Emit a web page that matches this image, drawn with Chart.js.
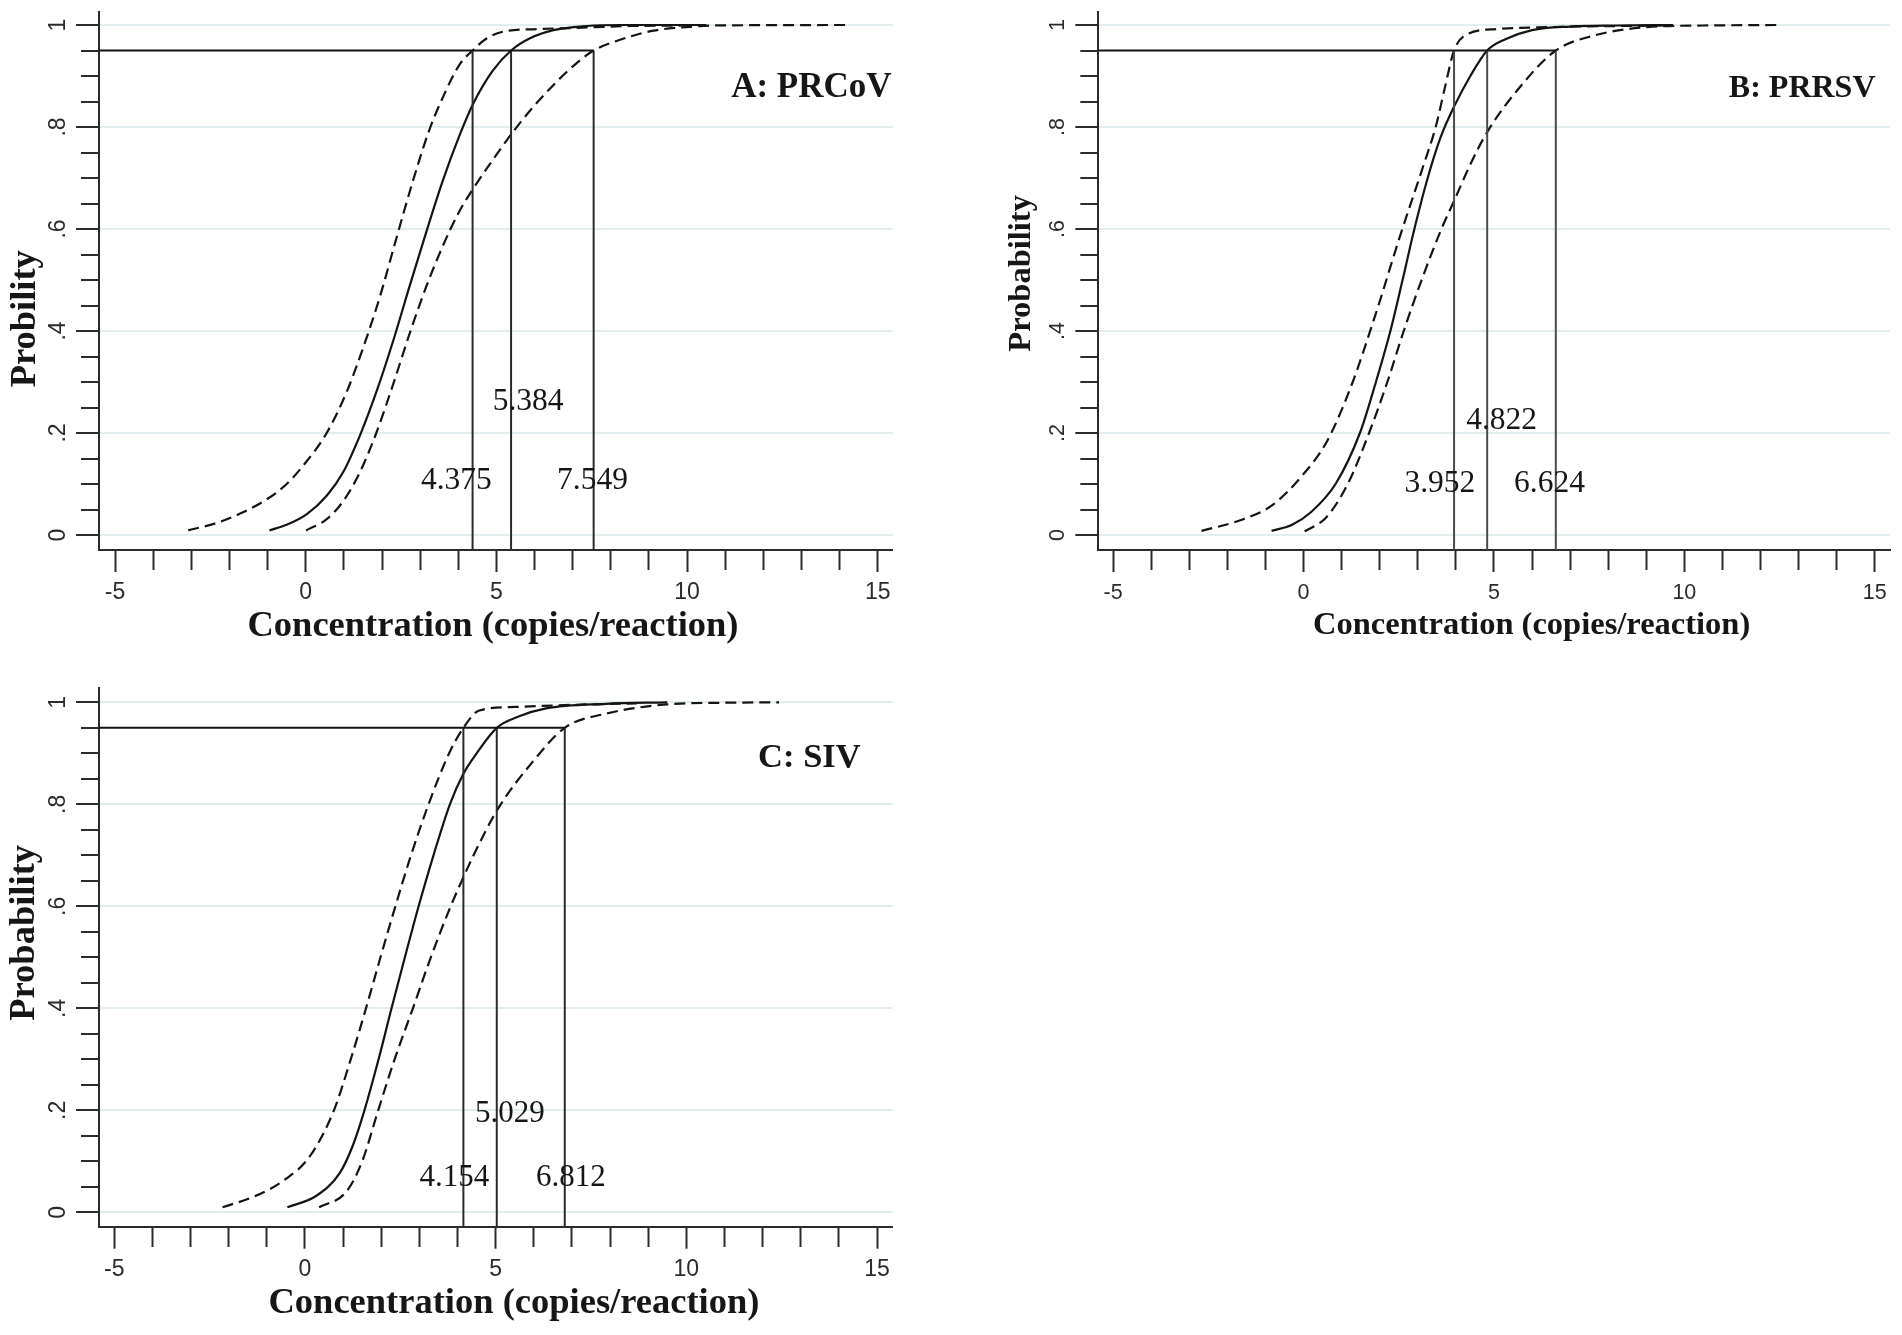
<!DOCTYPE html>
<html>
<head>
<meta charset="utf-8">
<script src="https://cdn.jsdelivr.net/npm/chart.js@4/dist/chart.umd.min.js"></script>
<style>
  html, body { margin: 0; padding: 0; background: #ffffff; }
  body { width: 1902px; height: 1335px; position: relative; overflow: hidden; }
  canvas { position: absolute; display: block; }
</style>
</head>
<body>
<canvas id="panelA" width="951" height="667" style="left:0px;top:0px;width:951px;height:667px;"></canvas>
<canvas id="panelB" width="951" height="667" style="left:951px;top:0px;width:951px;height:667px;"></canvas>
<canvas id="panelC" width="951" height="668" style="left:0px;top:667px;width:951px;height:668px;"></canvas>
<script>
// ---------------- DATA ----------------
const xAxisTitle = 'Concentration (copies/reaction)';
const yAxisTitles = ['Probility', 'Probability', 'Probability'];
const panelNames = ['A: PRCoV', 'B: PRRSV', 'C: SIV'];
const xTickLabels = [-5, 0, 5, 10, 15];
const yTickValues = [0, 0.2, 0.4, 0.6, 0.8, 1];
const yTickLabels = ['0', '.2', '.4', '.6', '.8', '1'];
const probLevel = 0.95;

// LOD at 95 % probability: [lower CI, estimate, upper CI]
const lodPRCoV = [4.375, 5.384, 7.549];
const lodPRRSV = [3.952, 4.822, 6.624];
const lodSIV   = [4.154, 5.029, 6.812];

// Panel A: PRCoV  ([concentration, probability])
const prcovFit = [[-0.95,0.009],[-0.5,0.02],[0.03,0.041],[0.55,0.077],[0.98,0.123],[1.42,0.195],[1.85,0.28],[2.29,0.38],[2.72,0.487],[3.16,0.594],[3.59,0.694],[4.03,0.783],[4.4,0.847],[4.9,0.91],[5.384,0.95],[5.88,0.974],[6.49,0.99],[7.37,0.998],[8.24,1.0],[10.5,1.0]];
const prcovLow = [[-3.08,0.009],[-2.32,0.024],[-1.63,0.045],[-1.02,0.07],[-0.5,0.1],[0.03,0.145],[0.55,0.2],[1.07,0.28],[1.5,0.366],[1.94,0.466],[2.37,0.58],[2.81,0.694],[3.24,0.794],[3.68,0.872],[4.03,0.922],[4.375,0.95],[4.75,0.974],[5.18,0.987],[6.06,0.992],[6.93,0.994],[8.5,0.998],[10.0,0.999]];
const prcovHigh = [[0.01,0.009],[0.55,0.031],[0.98,0.066],[1.42,0.123],[1.85,0.2],[2.29,0.295],[2.72,0.394],[3.16,0.487],[3.59,0.566],[4.03,0.635],[4.4,0.68],[4.9,0.735],[5.4,0.787],[5.88,0.832],[6.49,0.882],[7.02,0.92],[7.549,0.95],[8.24,0.971],[9.12,0.989],[9.99,0.996],[10.6,0.999],[14.27,1.0]];

// Panel B: PRRSV
const prrsvFit = [[-0.84,0.008],[-0.3,0.02],[0.2,0.045],[0.84,0.1],[1.48,0.2],[1.9,0.3],[2.28,0.4],[2.6,0.5],[2.91,0.6],[3.26,0.7],[3.6,0.78],[3.952,0.84],[4.38,0.9],[4.822,0.95],[5.3,0.972],[6.0,0.99],[7.0,0.997],[8.2,0.999],[9.7,1.0]];
const prrsvLow = [[-2.68,0.008],[-1.62,0.03],[-0.83,0.058],[-0.03,0.117],[0.61,0.183],[1.24,0.29],[1.88,0.43],[2.52,0.583],[3.15,0.725],[3.47,0.8],[3.72,0.88],[3.952,0.95],[4.3,0.982],[5.06,0.992],[6.5,0.996],[8.25,0.998],[9.5,0.999]];
const prrsvHigh = [[0.03,0.007],[0.6,0.035],[1.16,0.1],[1.72,0.2],[2.2,0.3],[2.63,0.4],[3.1,0.5],[3.62,0.6],[3.952,0.655],[4.4,0.73],[4.822,0.79],[5.7,0.88],[6.624,0.95],[7.61,0.979],[9.04,0.996],[10.5,0.999],[12.47,1.0]];

// Panel C: SIV
const sivFit = [[-0.46,0.01],[0.29,0.032],[0.92,0.078],[1.25,0.13],[1.56,0.2],[1.93,0.3],[2.27,0.4],[2.62,0.5],[2.98,0.6],[3.37,0.7],[3.8,0.8],[4.154,0.86],[4.5,0.9],[5.029,0.95],[5.6,0.972],[6.32,0.988],[7.9,0.997],[9.5,1.0]];
const sivLow = [[-2.16,0.01],[-1.3,0.032],[-0.51,0.065],[0.13,0.11],[0.76,0.2],[1.2,0.3],[1.6,0.4],[1.98,0.5],[2.37,0.6],[2.78,0.7],[3.24,0.8],[3.78,0.9],[4.154,0.95],[4.57,0.984],[5.52,0.991],[7.0,0.995],[8.7,0.998]];
const sivHigh = [[0.37,0.01],[1.08,0.04],[1.5,0.1],[1.92,0.2],[2.35,0.3],[2.83,0.4],[3.3,0.5],[3.82,0.6],[4.154,0.657],[4.42,0.7],[5.05,0.79],[6.0,0.886],[6.812,0.95],[7.9,0.978],[9.49,0.996],[10.8,0.999],[12.43,1.0]];

// ---------------- LAYOUT (positions / sizes / styles) ----------------
const layouts = [
  { id: 'panelA', lod: lodPRCoV, fit: prcovFit, low: prcovLow, high: prcovHigh, name: panelNames[0], yTitle: yAxisTitles[0],
    xMin: -5.42, xMax: 15.39, yMin: -0.0294, yMax: 1.0255,
    padTop: 12, padRight: 58.3, yWidth: 99, xHeight: 117,
    tickSize: 23, xTickPad: 6.9, yTickPad: 7.4, titleSize: 36.5, panelSize: 35, numSize: 31.5,
    numPos: [[3.95, 0.106], [5.83, 0.262], [7.52, 0.106]],
    panelPos: [15.36, 0.877], xTitleX: 4.91, xTitleDy: 77, yTitleDx: -73.3, yTitleY: 0.424, refColor: '#2a2a2a' },
  { id: 'panelB', lod: lodPRRSV, fit: prrsvFit, low: prrsvLow, high: prrsvHigh, name: panelNames[1], yTitle: yAxisTitles[1],
    xMin: -5.39, xMax: 15.40, yMin: -0.0294, yMax: 1.0255,
    padTop: 12, padRight: 12, yWidth: 147.3, xHeight: 117,
    tickSize: 21.5, xTickPad: 7.8, yTickPad: 7.8, titleSize: 32.5, panelSize: 32, numSize: 31.5,
    numPos: [[3.58, 0.10], [5.2, 0.225], [6.46, 0.10]],
    panelPos: [15.02, 0.876], xTitleX: 5.99, xTitleDy: 76, yTitleDx: -76.3, yTitleY: 0.513, refColor: '#4a4a4a' },
  { id: 'panelC', lod: lodSIV, fit: sivFit, low: sivLow, high: sivHigh, name: panelNames[2], yTitle: yAxisTitles[2],
    xMin: -5.40, xMax: 15.41, yMin: -0.0282, yMax: 1.0275,
    padTop: 21.3, padRight: 58.3, yWidth: 99, xHeight: 108.3,
    tickSize: 23, xTickPad: 6.9, yTickPad: 7.4, titleSize: 36.5, panelSize: 34.5, numSize: 31,
    numPos: [[3.92, 0.067], [5.37, 0.1925], [6.97, 0.067]],
    panelPos: [14.57, 0.89], xTitleX: 5.48, xTitleDy: 76.6, yTitleDx: -74, yTitleY: 0.548, refColor: '#2a2a2a' }
];

const AXIS_COLOR = '#2b2b2b';
const GRID_COLOR = '#e2edef';
const LINE_COLOR = '#141414';
const SERIF = '"Liberation Serif", "Times New Roman", serif';
const SANS = '"Liberation Sans", Arial, sans-serif';

function near(a, b) { return Math.abs(a - b) < 1e-6; }
function isMajorX(v) { return xTickLabels.some(t => near(t, v)); }
function majorYIndex(v) { return yTickValues.findIndex(t => near(t, v)); }

const annotate = {
  id: 'annotate',
  afterDatasetsDraw(chart, args, o) {
    const { ctx, chartArea: ca } = chart;
    const xs = chart.scales.x, ys = chart.scales.y;
    ctx.save();
    ctx.fillStyle = '#161616';
    ctx.textAlign = 'center';
    ctx.textBaseline = 'middle';
    ctx.font = o.numSize + 'px ' + SERIF;
    o.lod.forEach((v, i) => {
      ctx.fillText(v.toFixed(3), xs.getPixelForValue(o.numPos[i][0]), ys.getPixelForValue(o.numPos[i][1]));
    });
    ctx.font = 'bold ' + o.panelSize + 'px ' + SERIF;
    ctx.textAlign = 'right';
    ctx.fillText(o.name, xs.getPixelForValue(o.panelPos[0]), ys.getPixelForValue(o.panelPos[1]));
    ctx.textAlign = 'center';
    ctx.font = 'bold ' + o.titleSize + 'px ' + SERIF;
    ctx.fillText(xAxisTitle, xs.getPixelForValue(o.xTitleX), ca.bottom + o.xTitleDy);
    ctx.translate(ca.left + o.yTitleDx, ys.getPixelForValue(o.yTitleY));
    ctx.rotate(-Math.PI / 2);
    ctx.fillText(o.yTitle, 0, 0);
    ctx.restore();
  }
};

function curve(points, dashed) {
  return {
    data: points.map(p => ({ x: p[0], y: p[1] })),
    showLine: true, fill: false,
    borderColor: LINE_COLOR, borderWidth: 2.2,
    borderDash: dashed ? [11, 6] : [],
    pointRadius: 0, pointHoverRadius: 0,
    cubicInterpolationMode: 'monotone'
  };
}
function refLine(points, color) {
  return {
    data: points, showLine: true, fill: false,
    borderColor: color, borderWidth: 2, pointRadius: 0, pointHoverRadius: 0, tension: 0
  };
}

layouts.forEach(L => {
  const datasets = [];
  datasets.push(refLine([{ x: L.xMin, y: probLevel }, { x: L.lod[2], y: probLevel }], LINE_COLOR));
  L.lod.forEach(v => datasets.push(refLine([{ x: v, y: probLevel }, { x: v, y: L.yMin }], L.refColor)));
  datasets.push(curve(L.low, true));
  datasets.push(curve(L.high, true));
  datasets.push(curve(L.fit, false));

  new Chart(document.getElementById(L.id), {
    type: 'scatter',
    data: { datasets },
    plugins: [annotate],
    options: {
      responsive: false,
      animation: false,
      events: [],
      layout: { padding: { left: 0, top: L.padTop, right: L.padRight, bottom: 0 } },
      plugins: {
        legend: { display: false },
        tooltip: { enabled: false },
        annotate: L
      },
      scales: {
        x: {
          type: 'linear', position: 'bottom',
          min: L.xMin, max: L.xMax,
          afterFit: s => { s.height = L.xHeight; s.paddingLeft = 0; s.paddingRight = 0; },
          border: { display: true, color: AXIS_COLOR, width: 2 },
          grid: {
            drawOnChartArea: false, drawTicks: true, tickLength: 22,
            tickColor: AXIS_COLOR, tickWidth: 2,
            tickBorderDash: c => isMajorX(c.tick.value) ? [] : [19, 10]
          },
          ticks: {
            stepSize: 1, includeBounds: false, autoSkip: false,
            minRotation: 0, maxRotation: 0, padding: L.xTickPad,
            color: AXIS_COLOR, font: { family: SANS, size: L.tickSize },
            callback: v => isMajorX(v) ? String(Math.round(v)) : ''
          }
        },
        y: {
          type: 'linear', position: 'left',
          min: L.yMin, max: L.yMax,
          afterFit: s => { s.width = L.yWidth; s.paddingTop = 0; s.paddingBottom = 0; },
          border: { display: true, color: AXIS_COLOR, width: 2 },
          grid: {
            drawOnChartArea: true, drawTicks: true, tickLength: 23,
            lineWidth: 2,
            color: c => majorYIndex(c.tick.value) >= 0 ? GRID_COLOR : 'rgba(0,0,0,0)',
            tickColor: AXIS_COLOR, tickWidth: 2,
            tickBorderDash: c => majorYIndex(c.tick.value) >= 0 ? [] : [18, 5],
            tickBorderDashOffset: c => majorYIndex(c.tick.value) >= 0 ? 0 : 18
          },
          ticks: {
            stepSize: 0.05, includeBounds: false, autoSkip: false,
            minRotation: 90, maxRotation: 90, crossAlign: 'center', padding: L.yTickPad,
            color: AXIS_COLOR, font: { family: SANS, size: L.tickSize },
            callback: v => { const i = majorYIndex(v); return i >= 0 ? yTickLabels[i] : ''; }
          }
        }
      }
    }
  });
});
</script>
</body>
</html>
